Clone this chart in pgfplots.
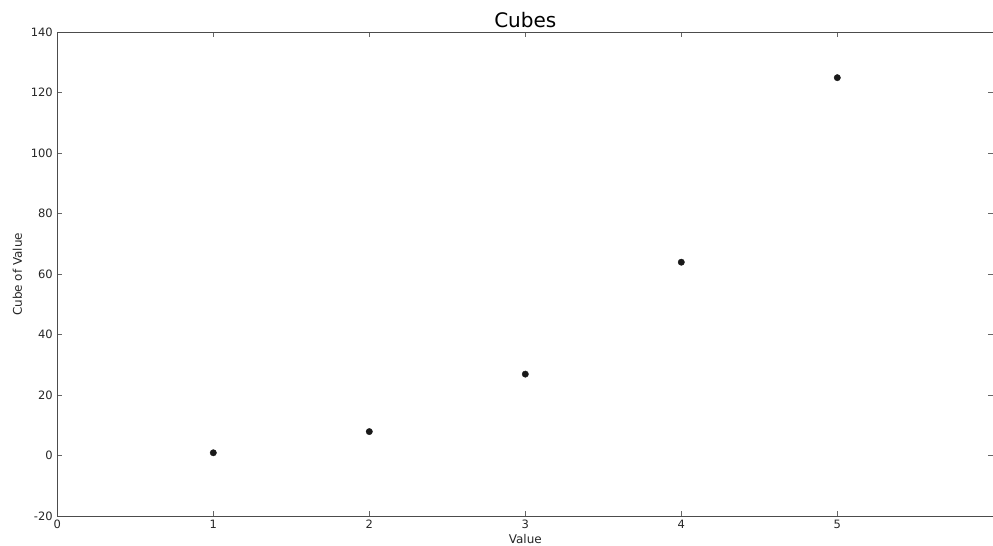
\documentclass[border=0pt]{standalone}
\usepackage{fontspec}
\setmainfont{DejaVu Sans}
\usepackage{pgfplots}
\pgfplotsset{compat=1.18}
\begin{document}
\begin{tikzpicture}
\begin{axis}[
  at={(0pt,0pt)}, anchor=south west,
  scale only axis,
  width=936pt, height=484pt,
  xmin=0, xmax=6, ymin=-20, ymax=140,
  xtick={0,1,2,3,4,5}, ytick={-20,0,20,40,60,80,100,120,140},
  tick align=inside,
  major tick length=5pt,
  axis line style={black!70, line width=1.2pt},
  tick style={black!60, line width=0.8pt},
  /pgf/number format/assume math mode=true,
  ticklabel style={font=\fontsize{11.5}{12}\selectfont, text=black!85},
  xticklabel style={yshift=-0.5pt},
  yticklabel style={xshift=-1pt},
  title={Cubes},
  title style={font=\fontsize{20}{22}\selectfont, at={(axis description cs:0.5,1)}, anchor=base, yshift=-1.5pt},
  xlabel={Value},
  ylabel={Cube of Value},
  label style={font=\fontsize{12}{14}\selectfont, text=black!85},
  xlabel style={at={(axis description cs:0.5,0)}, anchor=base, yshift=-27.5pt, inner sep=1pt},
  ylabel style={at={(axis description cs:0,0.5)}, anchor=center, yshift=40pt},
]
\addplot[only marks, mark=*, mark size=3.2pt, color=black!90] coordinates {
  (1,1) (2,8) (3,27) (4,64) (5,125)
};
\end{axis}
\pgfresetboundingbox
\path[use as bounding box] (-57.3pt,-29.7pt) rectangle (935.7pt,516.3pt);
\end{tikzpicture}
\end{document}
